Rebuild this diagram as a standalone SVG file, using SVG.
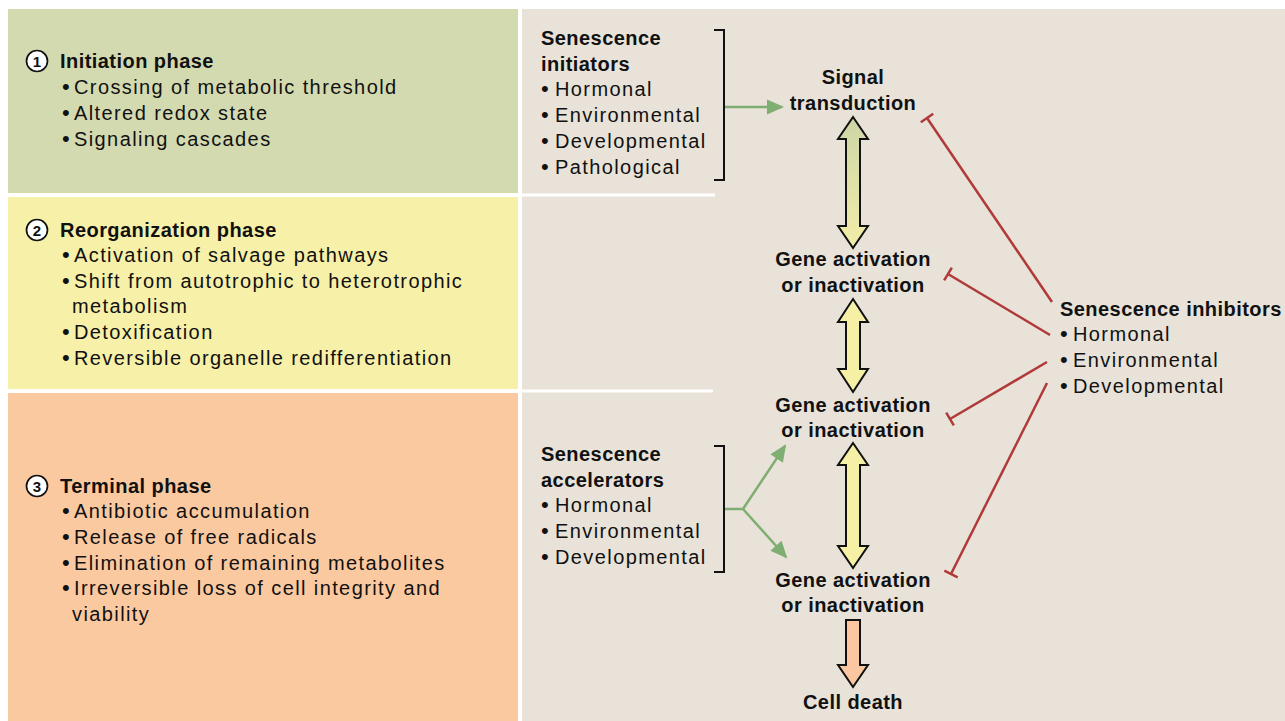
<svg xmlns="http://www.w3.org/2000/svg" width="1285" height="721" viewBox="0 0 1285 721">
  <style>
    text { font-family: "Liberation Sans", Arial, sans-serif; fill: #111; }
    .t { font-size: 20px; letter-spacing: 1.4px; }
    .bl { font-size: 22px; letter-spacing: 0; }
    .b { font-size: 20px; font-weight: bold; letter-spacing: 0.45px; }
    .c { font-size: 20px; font-weight: bold; letter-spacing: 0.45px; text-anchor: middle; }
    .num { font-size: 15px; font-weight: bold; text-anchor: middle; }
    .inh { fill: none; stroke: #b03a3a; stroke-width: 2.5; marker-end: url(#tbar); }
    .act { fill: none; stroke: #7fae72; stroke-width: 2.5; }
    .brk { fill: none; stroke: #111; stroke-width: 2; }
    .bigarrow { stroke: #111; stroke-width: 2; stroke-linejoin: miter; }
  </style>
  <defs>
    <marker id="tbar" markerUnits="userSpaceOnUse" markerWidth="20" markerHeight="20" refX="0" refY="0" viewBox="-10 -10 20 20" orient="auto">
      <path d="M0,-7.5 L0,7.5" stroke="#b03a3a" stroke-width="2.5"/>
    </marker>
    <marker id="ahead" markerUnits="userSpaceOnUse" markerWidth="22" markerHeight="22" refX="0" refY="0" viewBox="-18 -11 22 22" orient="auto">
      <path d="M-15,-7.5 L2,0 L-15,7.5 Z" fill="#7fae72"/>
    </marker>
    <linearGradient id="gy" x1="0" y1="0" x2="0" y2="1">
      <stop offset="0" stop-color="#cdd5a6"/>
      <stop offset="1" stop-color="#f2eda8"/>
    </linearGradient>
  </defs>

  <!-- backgrounds -->
  <rect x="0" y="0" width="1285" height="721" fill="#ffffff"/>
  <rect x="8" y="9" width="510" height="184" fill="#d4dab0"/>
  <rect x="8" y="197" width="510" height="192" fill="#f7f0a8"/>
  <rect x="8" y="393" width="510" height="328" fill="#fbc9a0"/>
  <rect x="522" y="9" width="763" height="712" fill="#e8e2d8"/>
  <line x1="522" y1="195" x2="715" y2="195" stroke="#ffffff" stroke-width="3"/>
  <line x1="522" y1="391" x2="713" y2="391" stroke="#ffffff" stroke-width="3"/>

  <!-- phase 1 -->
  <g id="phase1">
    <circle cx="37" cy="61" r="10.5" fill="#fff" stroke="#111" stroke-width="1.7"/>
    <text class="num" x="37" y="66.5">1</text>
    <text class="b" x="60" y="68">Initiation phase</text>
    <text class="t" x="62" y="94"><tspan class="bl">•</tspan><tspan x="74">Crossing of metabolic threshold</tspan></text>
    <text class="t" x="62" y="120"><tspan class="bl">•</tspan><tspan x="74">Altered redox state</tspan></text>
    <text class="t" x="62" y="146"><tspan class="bl">•</tspan><tspan x="74">Signaling cascades</tspan></text>
  </g>

  <!-- phase 2 -->
  <g id="phase2">
    <circle cx="37" cy="230" r="10.5" fill="#fff" stroke="#111" stroke-width="1.7"/>
    <text class="num" x="37" y="235.5">2</text>
    <text class="b" x="60" y="237">Reorganization phase</text>
    <text class="t" x="62" y="262"><tspan class="bl">•</tspan><tspan x="74">Activation of salvage pathways</tspan></text>
    <text class="t" x="62" y="288"><tspan class="bl">•</tspan><tspan x="74">Shift from autotrophic to heterotrophic</tspan></text>
    <text class="t" x="72" y="313">metabolism</text>
    <text class="t" x="62" y="339"><tspan class="bl">•</tspan><tspan x="74">Detoxification</tspan></text>
    <text class="t" x="62" y="365"><tspan class="bl">•</tspan><tspan x="74">Reversible organelle redifferentiation</tspan></text>
  </g>

  <!-- phase 3 -->
  <g id="phase3">
    <circle cx="37" cy="486" r="10.5" fill="#fff" stroke="#111" stroke-width="1.7"/>
    <text class="num" x="37" y="491.5">3</text>
    <text class="b" x="60" y="493">Terminal phase</text>
    <text class="t" x="62" y="518"><tspan class="bl">•</tspan><tspan x="74">Antibiotic accumulation</tspan></text>
    <text class="t" x="62" y="544"><tspan class="bl">•</tspan><tspan x="74">Release of free radicals</tspan></text>
    <text class="t" x="62" y="570"><tspan class="bl">•</tspan><tspan x="74">Elimination of remaining metabolites</tspan></text>
    <text class="t" x="62" y="595"><tspan class="bl">•</tspan><tspan x="74">Irreversible loss of cell integrity and</tspan></text>
    <text class="t" x="72" y="621">viability</text>
  </g>

  <!-- initiators -->
  <g id="initiators">
    <text class="b" x="541" y="45">Senescence</text>
    <text class="b" x="541" y="71">initiators</text>
    <text class="t" x="541" y="96"><tspan class="bl">•</tspan><tspan x="555">Hormonal</tspan></text>
    <text class="t" x="541" y="122"><tspan class="bl">•</tspan><tspan x="555">Environmental</tspan></text>
    <text class="t" x="541" y="148"><tspan class="bl">•</tspan><tspan x="555">Developmental</tspan></text>
    <text class="t" x="541" y="174"><tspan class="bl">•</tspan><tspan x="555">Pathological</tspan></text>
    <path class="brk" d="M714,30 H724 V180 H714"/>
  </g>

  <!-- accelerators -->
  <g id="accelerators">
    <text class="b" x="541" y="461">Senescence</text>
    <text class="b" x="541" y="487">accelerators</text>
    <text class="t" x="541" y="512"><tspan class="bl">•</tspan><tspan x="555">Hormonal</tspan></text>
    <text class="t" x="541" y="538"><tspan class="bl">•</tspan><tspan x="555">Environmental</tspan></text>
    <text class="t" x="541" y="564"><tspan class="bl">•</tspan><tspan x="555">Developmental</tspan></text>
    <path class="brk" d="M714,446 H724 V572 H714"/>
  </g>

  <!-- inhibitors -->
  <g id="inhibitors">
    <text class="b" x="1060" y="316">Senescence inhibitors</text>
    <text class="t" x="1060" y="341"><tspan class="bl">•</tspan><tspan x="1073">Hormonal</tspan></text>
    <text class="t" x="1060" y="367"><tspan class="bl">•</tspan><tspan x="1073">Environmental</tspan></text>
    <text class="t" x="1060" y="393"><tspan class="bl">•</tspan><tspan x="1073">Developmental</tspan></text>
  </g>

  <!-- central cascade -->
  <g id="signal">
    <text class="c" x="853" y="84">Signal</text>
    <text class="c" x="853" y="110">transduction</text>
  </g>
  <g id="gene1">
    <text class="c" x="853" y="266">Gene activation</text>
    <text class="c" x="853" y="292">or inactivation</text>
  </g>
  <g id="gene2">
    <text class="c" x="853" y="412">Gene activation</text>
    <text class="c" x="853" y="437">or inactivation</text>
  </g>
  <g id="gene3">
    <text class="c" x="853" y="587">Gene activation</text>
    <text class="c" x="853" y="612">or inactivation</text>
  </g>
  <g id="death">
    <text class="c" x="853" y="709">Cell death</text>
  </g>

  <!-- connectors -->
  <g id="connectors">
    <polygon class="bigarrow" fill="url(#gy)" points="853,117 868,139 860,139 860,226 868,226 853,248 838,226 846,226 846,139 838,139"/>
    <polygon class="bigarrow" fill="#f6f0a6" points="853,299 868,322 860,322 860,369 868,369 853,392 838,369 846,369 846,322 838,322"/>
    <polygon class="bigarrow" fill="#f6f0a6" points="853,443 868,465 860,465 860,546 868,546 853,568 838,546 846,546 846,465 838,465"/>
    <polygon class="bigarrow" fill="#fbc7a0" points="846,620 860,620 860,665 868,665 853,687 838,665 846,665"/>

    <path class="act" d="M725,107 H782" marker-end="url(#ahead)"/>
    <path class="act" d="M725,509 H743"/>
    <path class="act" d="M743,509 L785,446" marker-end="url(#ahead)"/>
    <path class="act" d="M743,509 L786,557" marker-end="url(#ahead)"/>

    <path class="inh" d="M1052,302 L927,118"/>
    <path class="inh" d="M1050,335 L948,274"/>
    <path class="inh" d="M1047,362 L950,419"/>
    <path class="inh" d="M1047,383 L951,574"/>
  </g>
</svg>
